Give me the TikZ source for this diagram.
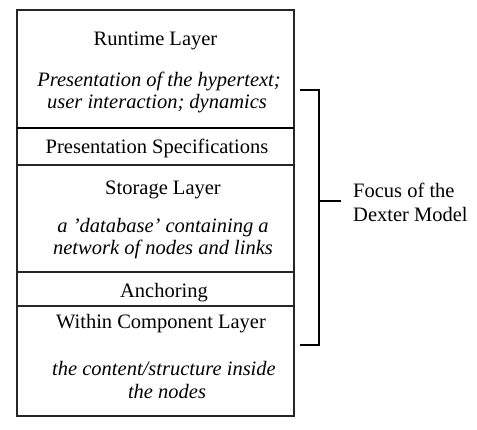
\documentclass[tikz,border=0pt]{standalone}
\usepackage{fontspec}
\setmainfont{Liberation Serif}
\begin{document}
\begin{tikzpicture}[x=1pt,y=-1pt,
  lbl/.style={inner sep=0pt,font=\fontsize{20.5}{24}\selectfont},
  itl/.style={inner sep=0pt,font=\fontsize{20.5}{24}\selectfont\itshape,align=center},
  frame/.style={draw=black!85,line width=1.2pt},
  thick divider/.style={draw=black,line width=2pt},
  bracket/.style={draw=black,line width=2.2pt}]
\useasboundingbox (0,0) rectangle (477,430);
\draw[frame] (17,10) rectangle (294,416);
\draw[thick divider] (17,128) -- (294,128);
\draw[frame] (17,165) -- (294,165);
\draw[frame] (17,272) -- (294,272);
\draw[frame] (17,306) -- (294,306);
\node[lbl] (rt) at (155.5,41) {Runtime Layer};
\node[itl] (rt1) at (159,81) {Presentation of the hypertext;};
\node[itl] (rt2) at (157,104) {user interaction; dynamics};
\node[lbl] (ps) at (157,148) {Presentation Specifications};
\node[lbl] (st) at (163,190) {Storage Layer};
\node[itl] (st1) at (163,228) {a ’database’ containing a};
\node[itl] (st2) at (163,249) {network of nodes and links};
\node[lbl] (an) at (164,293) {Anchoring};
\node[lbl] (wc) at (161,324) {Within Component Layer};
\node[itl] (wc1) at (164,369) {the content/structure inside};
\node[itl] (wc2) at (167,391) {the nodes};
\coordinate (b1) at (300,90);
\coordinate (b2) at (319,90);
\coordinate (b3) at (319,345);
\coordinate (b4) at (300,345);
\coordinate (bm) at (319,201);
\coordinate (bt) at (341,201);
\draw[bracket] (b1) -- (b2) -- (b3) -- (b4);
\draw[bracket] (bm) -- (bt);
\node[lbl,anchor=west] (f1) at (353,190) {Focus of the};
\node[lbl,anchor=west] (f2) at (353,214) {Dexter Model};
\end{tikzpicture}
\end{document}
